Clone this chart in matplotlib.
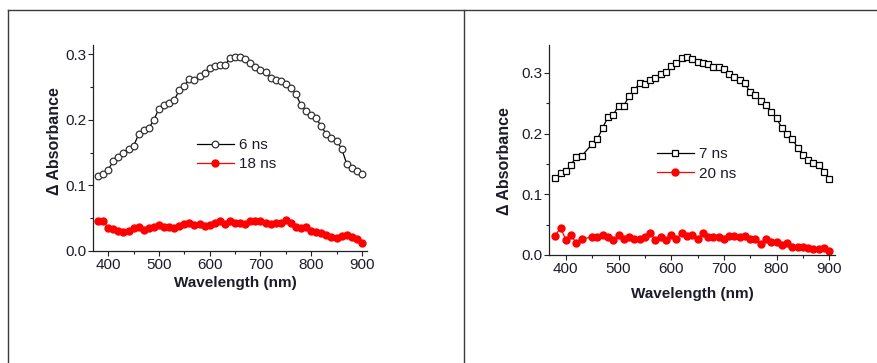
import matplotlib
matplotlib.use("Agg")
import matplotlib.pyplot as plt
from matplotlib.lines import Line2D
from matplotlib.ticker import MultipleLocator

plt.rcParams['font.family'] = ['Liberation Sans', 'DejaVu Sans']

# ---------------- data ----------------
wl_left = [380, 390, 400, 410, 420, 430, 440, 450, 460, 470, 480, 490, 500, 510, 520, 530,
           540, 550, 560, 570, 580, 590, 600, 610, 620, 630, 640, 650, 660, 670, 680, 690,
           700, 710, 720, 730, 740, 750, 760, 770, 780, 790, 800, 810, 820, 830, 840, 850,
           860, 870, 880, 890, 900]
abs_6ns = [0.115, 0.118, 0.124, 0.137, 0.143, 0.150, 0.155, 0.160, 0.178, 0.185, 0.187, 0.200,
           0.217, 0.222, 0.226, 0.230, 0.245, 0.252, 0.262, 0.261, 0.266, 0.272, 0.279, 0.282,
           0.283, 0.283, 0.294, 0.295, 0.295, 0.292, 0.286, 0.281, 0.276, 0.273, 0.264, 0.261,
           0.259, 0.255, 0.248, 0.239, 0.222, 0.214, 0.207, 0.202, 0.190, 0.178, 0.172, 0.168,
           0.156, 0.133, 0.126, 0.122, 0.118]
abs_18ns = [0.045, 0.046, 0.035, 0.034, 0.030, 0.029, 0.030, 0.035, 0.036, 0.032, 0.035, 0.037,
            0.040, 0.037, 0.037, 0.035, 0.038, 0.041, 0.043, 0.040, 0.041, 0.038, 0.040, 0.042,
            0.045, 0.041, 0.045, 0.043, 0.042, 0.041, 0.046, 0.045, 0.045, 0.042, 0.041, 0.043,
            0.043, 0.047, 0.042, 0.036, 0.035, 0.037, 0.031, 0.029, 0.028, 0.024, 0.022, 0.020,
            0.023, 0.024, 0.022, 0.018, 0.012]

wl_right = [380, 390, 400, 410, 420, 430, 450, 460, 470, 480, 490, 500, 510, 520, 530,
            540, 550, 560, 570, 580, 590, 600, 610, 620, 630, 640, 650, 660, 670, 680, 690,
            700, 710, 720, 730, 740, 750, 760, 770, 780, 790, 800, 810, 820, 830, 840, 850,
            860, 870, 880, 890, 900]
abs_7ns = [0.127, 0.135, 0.138, 0.149, 0.162, 0.163, 0.183, 0.191, 0.210, 0.227, 0.231, 0.246,
           0.246, 0.262, 0.272, 0.283, 0.281, 0.288, 0.291, 0.299, 0.301, 0.312, 0.316, 0.324,
           0.326, 0.323, 0.318, 0.317, 0.315, 0.310, 0.309, 0.307, 0.298, 0.294, 0.288, 0.283,
           0.268, 0.264, 0.253, 0.247, 0.236, 0.225, 0.210, 0.200, 0.191, 0.177, 0.165, 0.157,
           0.151, 0.149, 0.136, 0.126]
abs_20ns = [0.032, 0.045, 0.025, 0.033, 0.019, 0.026, 0.030, 0.030, 0.033, 0.030, 0.025, 0.033,
            0.026, 0.030, 0.027, 0.027, 0.030, 0.036, 0.025, 0.030, 0.025, 0.033, 0.026, 0.037,
            0.031, 0.033, 0.026, 0.037, 0.029, 0.029, 0.030, 0.026, 0.032, 0.032, 0.029, 0.032,
            0.026, 0.027, 0.018, 0.027, 0.022, 0.022, 0.016, 0.019, 0.014, 0.014, 0.013, 0.011,
            0.010, 0.010, 0.011, 0.007]

labels_left = ["6 ns", "18 ns"]
labels_right = ["7 ns", "20 ns"]
x_label = "Wavelength (nm)"
y_label = "\u0394 Absorbance"

W, H = 878, 363
fig = plt.figure(figsize=(W / 100, H / 100), dpi=100)

# table-like border lines
border = '#3a3a3a'
fig.add_artist(Line2D([8 / W, 1.0], [1 - 10 / H, 1 - 10 / H], transform=fig.transFigure, color=border, lw=1.0))
fig.add_artist(Line2D([8 / W, 8 / W], [0, 1 - 10 / H], transform=fig.transFigure, color=border, lw=1.0))
fig.add_artist(Line2D([464 / W, 464 / W], [0, 1 - 10 / H], transform=fig.transFigure, color=border, lw=1.0))

txt_col = '#1c1c28'
FS = 11


def style_axes(ax, xlim, ylim):
    ax.set_xlim(*xlim)
    ax.set_ylim(*ylim)
    for s in ['top', 'right']:
        ax.spines[s].set_visible(False)
    for s in ['left', 'bottom']:
        ax.spines[s].set_linewidth(0.9)
        ax.spines[s].set_color('#222222')
    ax.xaxis.set_major_locator(MultipleLocator(100))
    ax.xaxis.set_minor_locator(MultipleLocator(50))
    ax.yaxis.set_major_locator(MultipleLocator(0.1))
    ax.yaxis.set_minor_locator(MultipleLocator(0.05))
    ax.tick_params(which='major', direction='out', length=3.5, width=0.8, labelsize=FS,
                   colors='#222222', labelcolor=txt_col, pad=1.5)
    ax.tick_params(which='minor', direction='out', length=2, width=0.8, colors='#222222')
    ax.yaxis.set_major_formatter(matplotlib.ticker.FormatStrFormatter('%.1f'))
    ax.patch.set_alpha(0)


# left panel
axL = fig.add_axes([93 / W, 1 - 251 / H, 274 / W, 206 / H])
axL.plot(wl_left, abs_6ns, '-o', color='black', lw=0.9, ms=4.8, mfc='white', mec='#333333',
         mew=0.9, label=labels_left[0])
axL.plot(wl_left, abs_18ns, '-o', color='red', lw=0.9, ms=5.0, mfc='red', mec='red',
         label=labels_left[1])
style_axes(axL, (370, 910), (0, 0.314))
axL.set_xlabel(x_label, fontsize=FS, fontweight='bold', color=txt_col)
axL.set_ylabel(y_label, fontsize=11.5, fontweight='bold', color=txt_col)
axL.xaxis.set_label_coords(0.518, -0.121)
axL.yaxis.set_label_coords(-0.113, 0.534)
axL.legend(loc='upper left', bbox_to_anchor=(197 / W, 1 - 138 / H), bbox_transform=fig.transFigure,
           frameon=False, fontsize=FS, borderpad=0, borderaxespad=0, handlelength=2.4,
           handletextpad=0.35, labelspacing=0.32, labelcolor=txt_col)

# right panel
axR = fig.add_axes([549 / W, 1 - 255 / H, 286 / W, 210 / H])
axR.plot(wl_right, abs_7ns, '-s', color='black', lw=0.9, ms=4.8, mfc='white', mec='black',
         mew=0.9, label=labels_right[0])
axR.plot(wl_right, abs_20ns, '-o', color='red', lw=0.9, ms=5.0, mfc='red', mec='red',
         label=labels_right[1])
style_axes(axR, (368, 911), (0, 0.346))
axR.set_xlabel(x_label, fontsize=FS, fontweight='bold', color=txt_col)
axR.set_ylabel(y_label, fontsize=11.5, fontweight='bold', color=txt_col)
axR.xaxis.set_label_coords(0.5, -0.152)
axR.yaxis.set_label_coords(-0.129, 0.448)
axR.legend(loc='upper left', bbox_to_anchor=(657 / W, 1 - 147 / H), bbox_transform=fig.transFigure,
           frameon=False, fontsize=FS, borderpad=0, borderaxespad=0, handlelength=2.4,
           handletextpad=0.35, labelspacing=0.38, labelcolor=txt_col)

fig.savefig("out.png", dpi=100)
